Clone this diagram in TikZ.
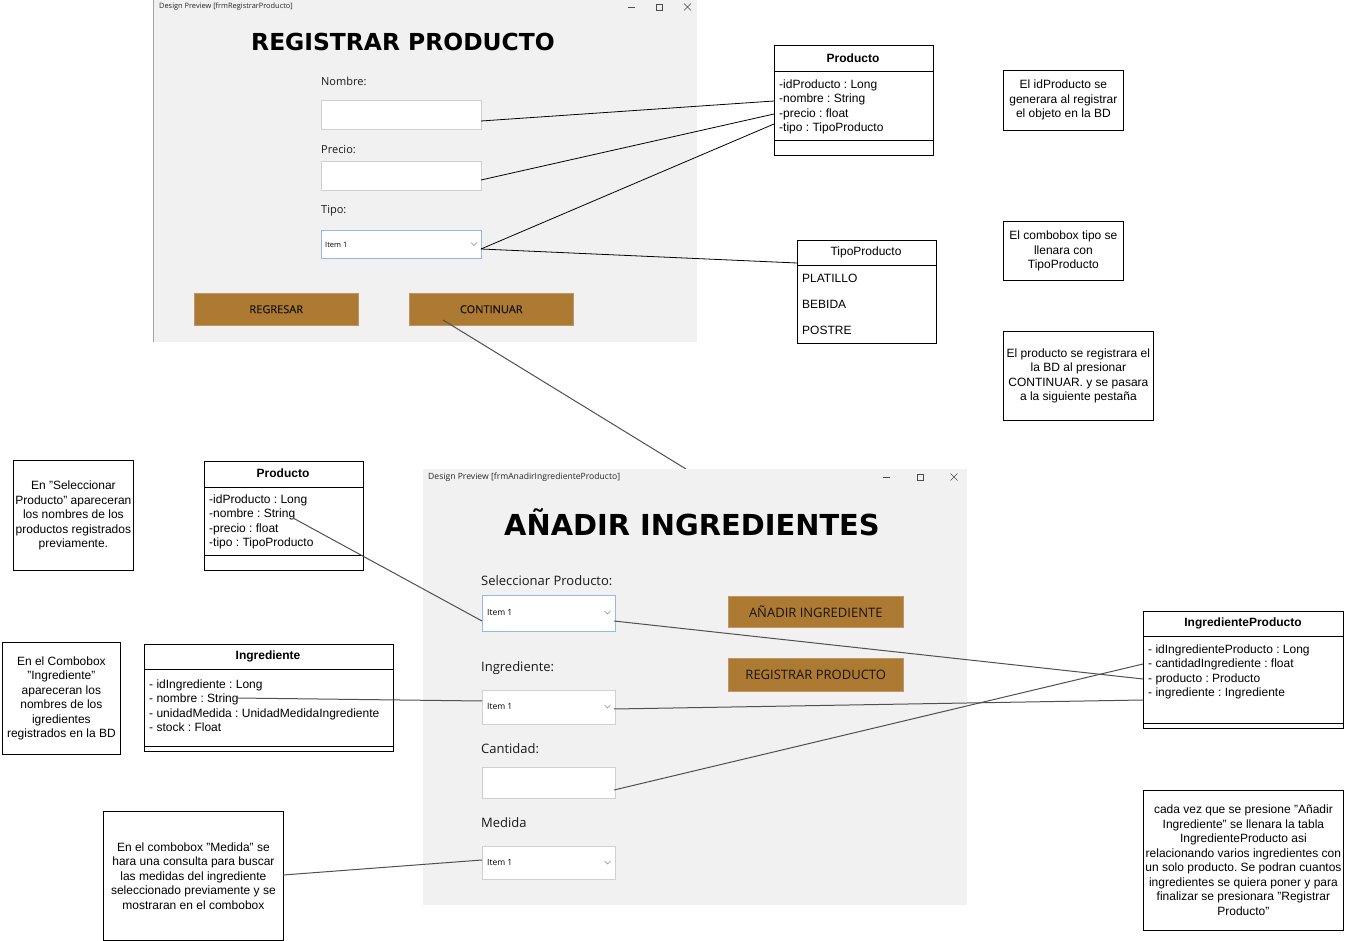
\documentclass[tikz,border=0pt]{standalone}
\usepackage{fontspec}
\setmainfont{Liberation Sans}
\newfontfamily\uifont{Open Sans}
\newfontfamily\uifontbtn{Open Sans}[FakeBold=0.8]
\newfontfamily\ttlfont{DejaVu Sans}
\usetikzlibrary{calc}
\definecolor{formgray}{RGB}{241,241,241}
\definecolor{btnfill}{RGB}{173,122,51}
\definecolor{btnedge}{RGB}{190,150,100}
\definecolor{btntext}{RGB}{25,20,12}
\definecolor{tbedge}{RGB}{208,208,208}
\definecolor{cbblue}{RGB}{150,185,225}
\definecolor{conngray}{RGB}{80,80,80}
\frenchspacing
\begin{document}
\frenchspacing
\begin{tikzpicture}[x=1pt,y=-1pt,
  panel/.style={fill=formgray,draw=none},
  ui/.style={font=\uifont\fontsize{11}{13}\selectfont,inner sep=0,anchor=west,text=black!90},
  uibig/.style={font=\uifont\fontsize{13}{15}\selectfont,inner sep=0,anchor=west,text=black!90},
  bar/.style={font=\uifont\fontsize{7.4}{8.5}\selectfont,inner sep=0,anchor=west,text=black!85},
  barb/.style={font=\uifont\fontsize{8.6}{10}\selectfont,inner sep=0,anchor=west,text=black!85},
  item/.style={font=\uifont\fontsize{7.5}{9}\selectfont,inner sep=0,anchor=west},
  itemb/.style={font=\uifont\fontsize{8.5}{10}\selectfont,inner sep=0,anchor=west},
  tbox/.style={draw=tbedge,fill=white,anchor=north west,inner sep=0,outer sep=0,line width=0.6},
  cbox/.style={draw=cbblue,fill=white,anchor=north west,inner sep=0,outer sep=0,line width=0.8},
  btn/.style={fill=btnfill,draw=btnedge,line width=0.5,anchor=north west,inner sep=0,text=btntext},
  btnlab/.style={font=\uifontbtn\fontsize{11}{13}\selectfont,inner sep=0,text=btntext},
  btnlabb/.style={font=\uifont\fontsize{13}{15}\selectfont,inner sep=0,text=btntext},
  ttl/.style={font=\ttlfont\bfseries\fontsize{23.4}{26}\selectfont,inner sep=0},
  ttlb/.style={font=\ttlfont\bfseries\fontsize{28.9}{32}\selectfont,inner sep=0},
  cls/.style={draw,line width=0.8,fill=white,anchor=north west,inner sep=0,outer sep=0},
  clstitle/.style={font=\fontsize{12}{14}\selectfont\bfseries,inner sep=0},
  clsplain/.style={font=\fontsize{12}{14}\selectfont,inner sep=0},
  attr/.style={font=\fontsize{12}{14.5}\selectfont,align=left,anchor=north west,inner sep=0},
  enumitem/.style={font=\fontsize{12}{14}\selectfont,anchor=west,inner sep=0},
  note/.style={draw,line width=0.8,align=center,font=\fontsize{12}{14.5}\selectfont,anchor=north west,inner sep=0},
  conn/.style={draw=black,line width=0.8},
  connb/.style={draw=conngray,line width=1},
  chev/.style={draw=black!45,line width=0.5},
  winctl/.style={draw=black!70,line width=0.6}
]
\useasboundingbox (0,0) rectangle (1345,941);
\fill[white] (0,0) rectangle (1345,941);

% ================= Top form =================
\fill[panel] (153,0) rectangle (697,342);
\draw[black!35,line width=0.5] (153.3,0) -- (153.3,342);
\node[bar] (bar1) at (159,7) {Design Preview [frmRegistrarProducto]};
\draw[winctl] (628,7) -- (635,7);
\draw[winctl] (656,4) rectangle (662,10);
\draw[winctl] (684,3.5) -- (691,10.5) (684,10.5) -- (691,3.5);
\node[ttl] (title1) at (403,42) {REGISTRAR PRODUCTO};

\node[ui] (lblNombre) at (321,81) {Nombre:};
\node[tbox,minimum width=160,minimum height=29] (tbNombre) at (321,100) {};
\node[ui] (lblPrecio) at (321,150) {Precio:};
\node[tbox,minimum width=160,minimum height=29] (tbPrecio) at (321,161) {};
\node[ui] (lblTipo) at (321,211) {Tipo:};
\node[cbox,minimum width=160,minimum height=28] (cbTipo) at (321,230) {};
\node[item] (itTipo) at (325,244.5) {Item 1};
\draw[chev] (471,242.5) -- (474,245.5) -- (477,242.5);

\node[btn,minimum width=164,minimum height=32] (btnReg) at (194,293) {};
\node[btnlab] (lblReg) at (btnReg.center) {REGRESAR};
\node[btn,minimum width=164,minimum height=32] (btnCont) at (409,293) {};
\node[btnlab] (lblCont) at (btnCont.center) {CONTINUAR};

% ---- Producto class (top) ----
\node[cls,minimum width=159,minimum height=110] (pA) at (774,45) {};
\draw[line width=0.8] (774,71) -- (933,71) (774,140) -- (933,140);
\node[clstitle] (pAt) at (853,58) {Producto};
\node[attr] (pAa) at (779,79.5) {-idProducto : Long\\-nombre : String\\-precio : float\\-tipo : TipoProducto};

\node[note,minimum width=120,minimum height=60] (n1) at (1003,70) {El idProducto se\\generara al registrar\\el objeto en la BD};

% ---- TipoProducto ----
\node[cls,minimum width=139,minimum height=103] (tp) at (797,240) {};
\draw[line width=0.8] (797,265) -- (936,265);
\node[clsplain] (tpt) at (866,252) {TipoProducto};
\node[enumitem] (tp1) at (802,278) {PLATILLO};
\node[enumitem] (tp2) at (802,304) {BEBIDA};
\node[enumitem] (tp3) at (802,330) {POSTRE};

\node[note,minimum width=120,minimum height=59] (n2) at (1003,221) {El combobox tipo se\\llenara con\\TipoProducto};
\node[note,minimum width=150,minimum height=89] (n3) at (1003,331) {El producto se registrara el\\la BD al presionar\\CONTINUAR. y se pasara\\a la siguiente pesta\~na};

% ---- top connectors ----
\coordinate (tbNombreOut) at (481,121);
\coordinate (tbPrecioOut) at (481,180);
\coordinate (cbTipoOut) at (481,249);
\coordinate (pANombre) at (774,101);
\coordinate (pAPrecio) at (774,114);
\coordinate (pATipo) at (774,124);
\coordinate (tpIn) at (797,263);
\coordinate (btnContOut) at (443,320);
\coordinate (form2Top) at (686,469);
\draw[conn] (tbNombreOut) -- (pANombre);
\draw[conn] (tbPrecioOut) -- (pAPrecio);
\draw[conn] (cbTipoOut) -- (pATipo);
\draw[conn] (cbTipoOut) -- (tpIn);
\draw[connb] (btnContOut) -- (form2Top);

% ================= Bottom form =================
\fill[panel] (423,469) rectangle (967,905);
\node[barb] (bar2) at (428,477) {Design Preview [frmAnadirIngredienteProducto]};
\draw[winctl] (883,477) -- (890,477);
\draw[winctl] (917,474) rectangle (923,480);
\draw[winctl] (950.5,473.5) -- (957.5,480.5) (950.5,480.5) -- (957.5,473.5);
\node[ttlb] (title2) at (692,522) {AÑADIR INGREDIENTES};

\node[uibig] (lblSel) at (481,581) {Seleccionar Producto:};
\node[cbox,minimum width=133,minimum height=36] (cbProd) at (482,595) {};
\node[itemb] (itProd) at (487,613) {Item 1};
\draw[chev] (604.5,611) -- (607.5,614) -- (610.5,611);

\node[btn,minimum width=175,minimum height=31] (btnAdd) at (728,596) {};
\node[btnlabb] (lblAdd) at (btnAdd.center) {AÑADIR INGREDIENTE};
\node[btn,minimum width=175,minimum height=33] (btnRegP) at (728,658) {};
\node[btnlabb] (lblRegP) at (btnRegP.center) {REGISTRAR PRODUCTO};

\node[uibig] (lblIng) at (481,668) {Ingrediente:};
\node[tbox,minimum width=133,minimum height=34] (cbIng) at (482,690) {};
\node[itemb] (itIng) at (487,707) {Item 1};
\draw[chev] (604.5,705) -- (607.5,708) -- (610.5,705);

\node[uibig] (lblCant) at (481,749) {Cantidad:};
\node[tbox,minimum width=133,minimum height=31] (tbCant) at (482,767) {};

\node[uibig] (lblMed) at (481,823) {Medida};
\node[tbox,minimum width=133,minimum height=33] (cbMed) at (482,846) {};
\node[itemb] (itMed) at (487,863) {Item 1};
\draw[chev] (604.5,861) -- (607.5,864) -- (610.5,861);

% ---- left side ----
\node[note,minimum width=120,minimum height=110] (n4) at (13,460) {En "Seleccionar\\Producto" apareceran\\los nombres de los\\productos registrados\\previamente.};

\node[cls,minimum width=159,minimum height=109] (pB) at (204,461) {};
\draw[line width=0.8] (204,487) -- (363,487) (204,555) -- (363,555);
\node[clstitle] (pBt) at (283,473) {Producto};
\node[attr] (pBa) at (209,494.5) {-idProducto : Long\\-nombre : String\\-precio : float\\-tipo : TipoProducto};

\node[note,minimum width=118,minimum height=112] (n5) at (2,642) {En el Combobox\\"Ingrediente"\\apareceran los\\nombres de los\\igredientes\\registrados en la BD};

\node[cls,minimum width=249,minimum height=107] (ing) at (144,644) {};
\draw[line width=0.8] (144,669) -- (393,669) (144,746) -- (393,746);
\node[clstitle] (ingt) at (268,656) {Ingrediente};
\node[attr] (inga) at (149,679.5) {- idIngrediente : Long\\- nombre : String\\- unidadMedida : UnidadMedidaIngrediente\\- stock : Float};

\node[note,minimum width=180,minimum height=129] (n6) at (103,811) {En el combobox "Medida" se\\hara una consulta para buscar\\las medidas del ingrediente\\seleccionado previamente y se\\mostraran en el combobox};

% ---- right side ----
\node[cls,minimum width=200,minimum height=117] (ip) at (1143,611) {};
\draw[line width=0.8] (1143,636) -- (1343,636) (1143,723) -- (1343,723);
\node[clstitle] (ipt) at (1243,623) {IngredienteProducto};
\node[attr] (ipa) at (1148,644.5) {- idIngredienteProducto : Long\\- cantidadIngrediente : float\\- producto : Producto\\- ingrediente : Ingrediente};

\node[note,minimum width=200,minimum height=140] (n7) at (1143,790) {cada vez que se presione "Añadir\\Ingrediente" se llenara la tabla\\IngredienteProducto asi\\relacionando varios ingredientes con\\un solo producto. Se podran cuantos\\ingredientes se quiera poner y para\\finalizar se presionara "Registrar\\Producto"};

% ---- bottom connectors ----
\coordinate (pBNombre) at (293,518);
\coordinate (cbProdIn) at (482,621);
\coordinate (cbProdOut) at (614,621);
\coordinate (ipProducto) at (1143,679);
\coordinate (ingNombre) at (236,698);
\coordinate (cbIngIn) at (482,701);
\coordinate (cbIngOut) at (614,709);
\coordinate (ipIngrediente) at (1143,700);
\coordinate (tbCantOut) at (614,790);
\coordinate (ipCantidad) at (1143,664);
\coordinate (n6Out) at (283,875);
\coordinate (cbMedIn) at (482,860);
\draw[connb] (pBNombre) -- (cbProdIn);
\draw[connb] (cbProdOut) -- (ipProducto);
\draw[connb] (ingNombre) -- (cbIngIn);
\draw[connb] (cbIngOut) -- (ipIngrediente);
\draw[connb] (tbCantOut) -- (ipCantidad);
\draw[connb] (n6Out) -- (cbMedIn);
\end{tikzpicture}
\end{document}
